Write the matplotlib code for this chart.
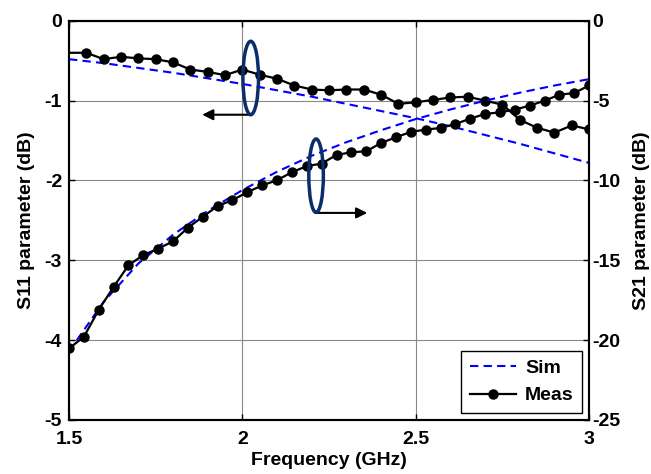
import matplotlib
matplotlib.use('Agg')
import matplotlib.pyplot as plt
from matplotlib.patches import Ellipse
import numpy as np

plt.rcParams['font.family'] = ['Liberation Sans', 'DejaVu Sans']
plt.rcParams['font.weight'] = 'bold'
plt.rcParams['axes.unicode_minus'] = False

# S11 measured (step 0.05 GHz)
s11_meas_freq = [1.50, 1.55, 1.60, 1.65, 1.70, 1.75, 1.80, 1.85, 1.90, 1.95,
                 2.00, 2.05, 2.10, 2.15, 2.20, 2.25, 2.30, 2.35, 2.40, 2.45,
                 2.50, 2.55, 2.60, 2.65, 2.70, 2.75, 2.80, 2.85, 2.90, 2.95, 3.00]
s11_meas = [-0.40, -0.40, -0.48, -0.45, -0.47, -0.48, -0.52, -0.61, -0.64, -0.68,
            -0.61, -0.675, -0.725, -0.81, -0.86, -0.87, -0.86, -0.86, -0.925, -1.04,
            -1.02, -0.99, -0.96, -0.95, -1.00, -1.05, -1.24, -1.34, -1.40, -1.31, -1.36]

# S21 measured (36 points from 1.5 to 3 GHz)
s21_meas_freq = np.linspace(1.5, 3.0, 36)
s21_meas = [-20.52, -19.79, -18.10, -16.67, -15.31, -14.67, -14.27, -13.81, -12.96, -12.27,
            -11.60, -11.23, -10.73, -10.31, -9.98, -9.48, -9.10, -8.94, -8.40, -8.23,
            -8.17, -7.65, -7.29, -6.96, -6.81, -6.71, -6.46, -6.125, -5.83, -5.73,
            -5.56, -5.31, -5.00, -4.625, -4.52, -4.04]

# simulated curves
sim_freq = [1.5, 1.6, 1.7, 1.8, 1.9, 2.0, 2.1, 2.2, 2.3, 2.4, 2.5, 2.6, 2.7, 2.8, 2.9, 3.0]
s11_sim = [-0.48, -0.53, -0.59, -0.65, -0.72, -0.79, -0.87, -0.95, -1.04, -1.13,
           -1.22, -1.32, -1.43, -1.54, -1.66, -1.78]
s21_sim = [-20.7, -17.6, -15.2, -13.4, -11.9, -10.6, -9.45, -8.45, -7.6, -6.85,
           -6.15, -5.55, -5.0, -4.5, -4.05, -3.65]

fs = 14

fig = plt.figure(figsize=(6.51, 4.74), dpi=100)
ax = fig.add_axes([0.106, 0.114, 0.799, 0.842])
ax2 = ax.twinx()

sim_style = dict(color='#0000ff', linestyle='--', linewidth=1.5, dashes=(4, 2.5))
meas_style = dict(color='k', linewidth=1.6, marker='o', markersize=6.5)

ax.plot(sim_freq, s11_sim, **sim_style)
ax.plot(s11_meas_freq, s11_meas, markevery=slice(1, None), **meas_style)
l_sim, = ax2.plot(sim_freq, s21_sim, label='Sim', **sim_style)
l_meas, = ax2.plot(s21_meas_freq, s21_meas, label='Meas', **meas_style)

ax.set_xlim(1.5, 3)
ax.set_ylim(-5, 0)
ax2.set_ylim(-25, 0)
ax.set_xticks([1.5, 2, 2.5, 3])
ax.set_xticklabels(['1.5', '2', '2.5', '3'])
ax.set_yticks([-5, -4, -3, -2, -1, 0])
ax2.set_yticks([-25, -20, -15, -10, -5, 0])

ax.grid(True, color='#888888', linewidth=0.8)
ax.tick_params(axis='x', direction='in', labelsize=fs, length=4, width=1, top=True, pad=8)
ax.tick_params(axis='y', direction='in', labelsize=fs, length=4, width=1, pad=5)
ax2.tick_params(direction='in', labelsize=fs, length=4, width=1, pad=2)
for a in (ax, ax2):
    for s in a.spines.values():
        s.set_linewidth(1.5)

ax.set_xlabel('Frequency (GHz)', fontsize=fs, fontweight='bold', labelpad=3)
ax.set_ylabel('S11 parameter (dB)', fontsize=fs, fontweight='bold', labelpad=7)
ax2.set_ylabel('S21 parameter (dB)', fontsize=fs, fontweight='bold', labelpad=9)

# annotation ellipses and arrows
navy = '#0b2d6b'
ax2.add_patch(Ellipse((2.024, -3.58), 0.045, 4.6, fill=False, edgecolor=navy, linewidth=2.5, zorder=5))
ax2.add_patch(Ellipse((2.2125, -9.7), 0.042, 4.6, fill=False, edgecolor=navy, linewidth=2.5, zorder=5))
ax2.annotate('', xy=(1.884, -5.88), xytext=(2.026, -5.88),
             arrowprops=dict(arrowstyle='-|>', color='k', lw=1.5, mutation_scale=16, shrinkA=0, shrinkB=0))
ax2.annotate('', xy=(2.36, -12.03), xytext=(2.213, -12.03),
             arrowprops=dict(arrowstyle='-|>', color='k', lw=1.5, mutation_scale=16, shrinkA=0, shrinkB=0))

leg = ax2.legend(handles=[l_sim, l_meas], loc='lower right', fontsize=fs,
                 fancybox=False, edgecolor='k', framealpha=1, borderaxespad=0.35,
                 handlelength=2.4, borderpad=0.45, labelspacing=0.5, handletextpad=0.45)
leg.get_frame().set_linewidth(1.0)

fig.savefig('out.png', dpi=100)
